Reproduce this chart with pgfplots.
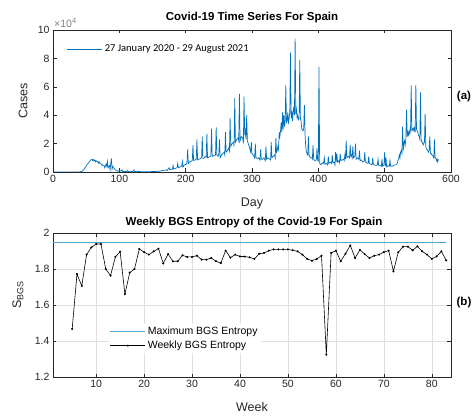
\documentclass[border=0pt]{standalone}
\usepackage{pgfplots}
\pgfplotsset{compat=1.18}
\usepackage{fontspec}
\setmainfont{Liberation Sans}
\newfontfamily\legfont{Carlito}

\definecolor{mblue}{rgb}{0,0.447,0.741}
\definecolor{maxblue}{rgb}{0.30,0.65,0.82}
\definecolor{axgray}{rgb}{0.15,0.15,0.15}

% daily cases, in units of 10^4
\pgfplotstableread{
d c
0 0
30 0.001
40 0.01
44 0.05
45 0.1
47 0.2
49 0.35
51 0.5
53 0.6
55 0.75
57 0.85
59 0.9
60 0.8
61 0.86
62 0.78
63 0.85
64 0.72
65 0.8
67 0.7
68 0.74
69 0.62
70 0.7
71 0.6
73 0.55
74 0.45
75 0.5
77 0.45
78 0.3
80 0.55
81 0.4
82 0.75
83 0.3
85 0.45
86 0.15
87 0.6
88 0.95
89 0.2
90 0.4
92 0.25
94 0.15
96 0.1
98 0.05
100 0.1
102 0.05
104 0.15
105 0.02
108 0.05
110 0.02
112 0.1
113 0.02
116 0.05
120 0.03
122 0.15
123 0.02
126 0.05
130 0.03
140 0.02
150 0.03
160 0.05
165 0.1
168 0.12
170 0.15
172 0.1
174 0.25
175 0.3
176 0.15
178 0.2
180 0.2
181 0.45
182 0.2
184 0.25
187 0.3
188 0.6
189 0.3
191 0.35
194 0.4
195 0.75
196 0.35
198 0.5
201 0.55
202 0.7
203 1.6
204 0.6
206 0.7
208 0.75
210 0.8
211 1.9
212 0.8
214 0.85
216 0.9
217 2.3
218 0.85
220 0.9
222 0.95
224 1.0
225 2.5
226 0.95
228 1.0
230 1.1
231 1.05
232 2.7
233 1.0
235 1.05
237 1.1
238 1.15
239 3.05
240 1.1
242 1.15
244 1.15
245 1.2
246 3.15
247 1.2
249 1.1
250 1.3
251 2.3
252 1.0
254 1.2
256 1.3
258 1.4
259 1.2
260 2.8
261 1.4
263 1.5
265 1.7
266 1.5
267 3.8
268 1.8
270 2.0
272 2.1
273 1.8
274 5.2
275 2.1
277 2.3
279 2.4
280 2.2
281 5.5
282 2.2
284 2.5
286 2.4
287 2.0
288 5.3
289 2.6
290 2.9
291 2.3
292 4.0
293 2.2
295 1.9
297 1.6
298 1.4
299 2.1
300 1.3
302 1.2
304 1.0
305 2.0
306 1.0
308 0.95
310 1.0
312 0.85
313 1.6
314 0.9
316 0.9
318 1.0
320 0.8
321 1.8
322 0.9
324 1.0
326 0.95
328 0.85
329 2.1
330 1.0
332 1.1
334 1.2
335 1.0
336 2.4
337 1.4
338 1.5
339 1.8
340 1.6
341 2.8
342 2.5
343 2.9
344 3.5
345 2.8
346 4.2
347 3.0
348 4.0
349 3.2
350 3.6
351 6.1
352 3.5
353 3.6
354 4.2
355 3.5
356 3.8
357 4.2
358 8.4
359 3.8
360 4.3
361 3.6
362 4.2
363 4.6
364 4.0
365 9.4
366 4.1
367 4.4
368 3.8
369 4.0
370 3.7
371 3.8
372 7.9
373 3.7
374 3.6
375 3.0
376 3.0
377 2.9
378 3.1
379 4.7
380 2.6
381 1.8
382 1.4
383 1.3
384 1.2
385 2.5
386 1.2
388 1.0
390 1.0
391 0.9
392 1.9
393 0.9
395 0.8
397 0.85
398 1.7
399 0.8
400 0.75
401 7.4
402 0.6
404 0.5
406 0.65
408 0.6
409 1.0
410 0.55
412 0.6
414 0.5
415 1.1
416 0.6
418 0.7
420 0.6
421 1.2
422 0.65
424 0.7
425 0.5
426 1.4
427 0.7
428 1.3
429 0.7
431 0.8
432 0.65
433 1.3
434 0.8
436 0.85
438 0.9
439 0.8
440 1.2
441 0.9
442 2.2
443 1.0
445 1.1
447 1.0
448 1.9
449 1.1
450 1.2
451 1.0
452 1.8
453 1.0
455 1.1
456 2.0
457 0.9
459 1.0
461 0.9
462 1.5
463 0.8
465 0.85
467 0.7
469 0.75
470 1.4
471 0.7
473 0.65
475 0.6
476 1.1
477 0.6
479 0.55
481 0.5
482 1.0
483 0.5
485 0.5
487 0.45
489 0.5
490 0.9
491 0.45
493 0.45
495 0.4
496 0.9
497 0.4
499 0.5
500 1.4
501 0.4
502 1.0
503 0.35
505 0.45
507 0.4
508 0.8
509 0.4
511 0.4
513 0.45
515 0.5
517 0.5
519 0.6
520 0.8
521 0.9
522 1.2
523 1.0
524 1.4
525 1.5
526 1.3
527 3.2
528 1.5
529 2.0
530 2.2
531 1.9
532 2.4
533 4.4
534 2.5
535 2.8
536 2.6
537 2.9
538 2.7
539 3.0
540 6.1
541 2.9
542 3.0
543 3.1
544 2.9
545 3.1
546 2.8
547 6.1
548 3.0
549 2.9
550 2.8
551 2.6
552 2.5
553 2.3
554 5.6
555 2.3
556 2.1
557 2.1
558 1.9
559 2.0
560 2.1
561 4.1
562 1.8
563 1.6
564 1.6
565 1.5
566 1.4
567 1.5
568 2.5
569 1.3
570 1.3
571 1.2
572 1.2
573 1.1
574 1.0
575 2.3
576 1.0
577 1.0
578 0.8
579 0.9
580 0.7
581 0.9
}\dailycases

% weekly BGS entropy
\pgfplotstableread{
w s
5 1.467
6 1.772
7 1.706
8 1.880
9 1.920
10 1.939
11 1.939
12 1.800
13 1.763
14 1.867
15 1.896
16 1.661
17 1.780
18 1.800
19 1.911
20 1.894
21 1.880
22 1.898
23 1.913
24 1.831
25 1.883
26 1.843
27 1.843
28 1.876
29 1.867
30 1.867
31 1.874
32 1.852
33 1.852
34 1.861
35 1.843
36 1.833
37 1.902
38 1.863
39 1.880
40 1.870
41 1.869
42 1.865
43 1.856
44 1.885
45 1.889
46 1.902
47 1.909
48 1.909
49 1.909
50 1.909
51 1.904
52 1.898
53 1.880
54 1.856
55 1.846
56 1.856
57 1.874
58 1.324
59 1.889
60 1.902
61 1.843
62 1.885
63 1.931
64 1.861
65 1.906
66 1.883
67 1.861
68 1.874
69 1.880
70 1.894
71 1.902
72 1.787
73 1.893
74 1.924
75 1.924
76 1.904
77 1.926
78 1.898
79 1.880
80 1.856
81 1.870
82 1.898
83 1.848
}\weeklyentropy

\pgfplotsset{
  mstyle/.style={
    scale only axis, width=398pt,
    axis line style={axgray, line width=0.5pt},
    tick style={axgray, line width=0.5pt},
    tick align=inside,
    major tick length=3.5pt,
    ticklabel style={font=\fontsize{10.5}{12}\selectfont, text=axgray},
    /pgf/number format/assume math mode=true,
    scaled ticks=false,
  },
  % longer legend sample, mark (if any) in its middle
  longleg/.style={
    legend image code/.code={\draw[mark repeat=2, mark phase=2, ##1]
      plot coordinates {(0pt,0pt) (17.5pt,0pt) (35pt,0pt)};}
  },
}

\begin{document}
\begin{tikzpicture}
\useasboundingbox (0,0) rectangle (474pt,-417pt);

% upper panel: daily cases
\begin{axis}[mstyle, longleg,
  at={(53pt,-172pt)}, anchor=south west, height=142pt,
  xmin=0, xmax=600, ymin=0, ymax=10,
  xtick={0,100,...,600}, ytick={0,2,...,10},
  legend style={draw=none, fill=none, at={(0.035,0.91)}, anchor=north west,
    font=\legfont\fontsize{10.5}{12}\selectfont, inner sep=0pt,
    legend cell align=left},
]
\addplot[mblue, line width=0.7pt] table[x=d, y=c] {\dailycases};
\addlegendentry{27 January 2020 - 29 August 2021}
\end{axis}

% lower panel: weekly entropy
\begin{axis}[mstyle, longleg,
  at={(53pt,-377pt)}, anchor=south west, height=144pt,
  xmin=1, xmax=84, ymin=1.2, ymax=2,
  xtick={10,20,...,80}, ytick={1.2,1.4,1.6,1.8,2},
  yticklabels={1.2,1.4,1.6,1.8,2},
  grid=major, grid style={gray!25, line width=0.4pt},
  legend style={draw=none, fill=white, at={(0.14,0.37)}, anchor=north west,
    font=\fontsize{10.5}{12}\selectfont, inner sep=1pt, row sep=1pt,
    legend cell align=left},
]
\addplot[maxblue, line width=0.9pt, forget plot] coordinates {(1,1.9459) (83,1.9459)};
\addlegendimage{maxblue, line width=0.9pt}
\addlegendentry{Maximum BGS Entropy}
\addplot[black, line width=0.6pt, mark=*, mark size=0.7pt]
  table[x=w, y=s] {\weeklyentropy};
\addlegendentry{Weekly BGS Entropy}
\end{axis}

% titles and labels
\node[font=\bfseries\fontsize{11.5}{13}\selectfont] at (252pt,-18pt) {Covid-19 Time Series For Spain};
\node[font=\bfseries\fontsize{11.5}{13}\selectfont] at (254pt,-223pt) {Weekly BGS Entropy of the Covid-19 For Spain};
\node[font=\fontsize{12.5}{14}\selectfont, text=axgray] at (252pt,-203pt) {Day};
\node[font=\fontsize{12.5}{14}\selectfont, text=axgray] at (252pt,-407pt) {Week};
\node[font=\fontsize{12.5}{14}\selectfont, text=axgray, rotate=90] at (23pt,-101pt) {Cases};
\node[font=\fontsize{12.5}{14}\selectfont, text=axgray, rotate=90] at (18pt,-295pt) {S\raisebox{-0.35ex}{\fontsize{9}{10}\selectfont BGS}};
\node[font=\fontsize{10.5}{12}\selectfont, text=gray, anchor=west, inner sep=1pt] at (53pt,-23pt) {×10\raisebox{0.7ex}{\fontsize{7.5}{8}\selectfont 4}};
\node[font=\bfseries\fontsize{11.5}{13}\selectfont] at (464pt,-97pt) {(a)};
\node[font=\bfseries\fontsize{11.5}{13}\selectfont] at (464pt,-303pt) {(b)};
\end{tikzpicture}
\end{document}
